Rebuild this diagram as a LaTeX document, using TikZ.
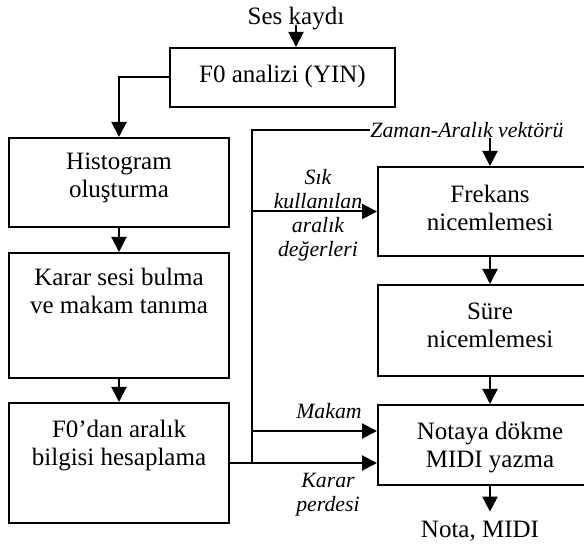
\documentclass[tikz,border=0pt]{standalone}
\usepackage{fontspec}
\setmainfont{Liberation Serif}
\usetikzlibrary{arrows.meta,positioning}

\begin{document}
\begin{tikzpicture}[x=0.5pt,y=-0.5pt,
    box/.style={draw, line width=1pt, inner sep=0pt},
    txt/.style={inner sep=0pt, anchor=north, align=center, font=\fontsize{12.5}{13.8}\selectfont},
    lbl/.style={inner sep=0pt, align=center, font=\fontsize{10.9}{12}\selectfont\itshape},
    arr/.style={line width=1pt, -{Triangle[width=7.5pt,length=7.5pt]}},
    wire/.style={line width=1pt}]
    \useasboundingbox (0,0) rectangle (584,544);
    \clip (0,0) rectangle (584,544);

    % left column
    \node[txt, anchor=base] (ses) at (296,25) {Ses kaydı};
    \node[box, minimum width=112.5pt, minimum height=29.5pt] (f0) at (282.5,77.5) {};
    \node[txt, below=9pt of f0.north] (f0txt) {F0 analizi (YIN)};
    \node[box, minimum width=110pt, minimum height=44.5pt] (hist) at (119,182.5) {};
    \node[txt, below=8pt of hist.north] (histtxt) {Histogram\\oluşturma};
    \node[box, minimum width=110pt, minimum height=62.5pt] (karar) at (119,315.5) {};
    \node[txt, below=8pt of karar.north] (karartxt) {Karar sesi bulma\\ve makam tanıma};
    \node[box, minimum width=110pt, minimum height=60pt] (f0dan) at (119,463) {};
    \node[txt, below=9pt of f0dan.north] (f0dantxt) {F0’dan aralık\\bilgisi hesaplama};

    % right column
    \node[box, minimum width=112pt, minimum height=44.5pt] (frekans) at (490,211.5) {};
    \node[txt, below=9.5pt of frekans.north] (frekanstxt) {Frekans\\nicemlemesi};
    \node[box, minimum width=112pt, minimum height=45.5pt] (sure) at (490,330.5) {};
    \node[txt, below=9.5pt of sure.north] (suretxt) {Süre\\nicemlemesi};
    \node[box, minimum width=112pt, minimum height=40pt] (notaya) at (490,445) {};
    \node[txt, below=9pt of notaya.north] (notayatxt) {Notaya dökme\\MIDI yazma};
    \node[txt, anchor=base, outer ysep=5pt] (nota) at (480,538) {Nota, MIDI};

    % labels
    \node[lbl] (zaman) at (467,130) {Zaman-Aralık vektörü};
    \node[lbl, anchor=north] (sik) at (318,169) {Sık\\kullanılan\\aralık\\değerleri};
    \node[lbl, anchor=base] (makam) at (329,419) {Makam};
    \node[lbl, anchor=north] (perde) at (328,473) {Karar\\perdesi};

    % connectors
    \coordinate (bus) at (252,130);
    \coordinate (makamin) at ([yshift=7pt]notaya.west);
    \draw[arr] (ses.base) -- (ses.base |- f0.north);
    \draw[arr] (f0.west) -| (hist.north);
    \draw[arr] (hist.south) -- (karar.north);
    \draw[arr] (karar.south) -- (f0dan.north);
    \draw[arr] (f0dan.east) -- (notaya.west |- f0dan.east);
    \draw[wire] (bus |- f0dan.east) -- (bus) -- (zaman.west);
    \draw[arr] (bus |- frekans.west) -- (frekans.west);
    \draw[arr] (bus |- makamin) -- (makamin);
    \draw[arr] (zaman.south -| frekans.north) -- (frekans.north);
    \draw[arr] (frekans.south) -- (sure.north);
    \draw[arr] (sure.south) -- (notaya.north);
    \draw[arr] (notaya.south) -- (notaya.south |- nota.north);
\end{tikzpicture}
\end{document}
